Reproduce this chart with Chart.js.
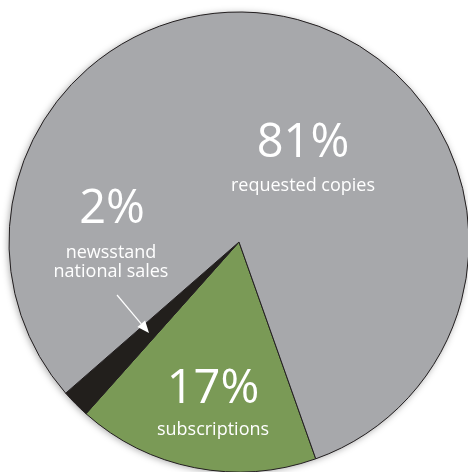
<!DOCTYPE html>
<html>
<head>
<meta charset="utf-8">
<script src="https://cdn.jsdelivr.net/npm/chart.js@4/dist/chart.umd.min.js"></script>
<style>
  html, body { margin: 0; padding: 0; background: #ffffff; overflow: hidden; width: 468px; height: 472px; }
  #wrap { position: absolute; left: 0; top: 0; width: 478px; height: 484px; }
</style>
</head>
<body>
<div id="wrap"><canvas id="c" width="478" height="484"></canvas></div>
<script>
// ---- data ----
const categories = ["subscriptions", "newsstand national sales", "requested copies"];
const shares = [17, 2, 81];
const percentLabels = ["17%", "2%", "81%"];

// ---- styles / layout (kept separate from data) ----
const sliceColors = ["#7a9a56", "#221f1c", "#a7a8ab"];
const edgeColor = "#231f20";
const labelFont = "'Open Sans', 'Noto Sans', sans-serif";
// label anchor points (px) for each category: big % text and caption lines
const labelLayout = [
  { pctX: 213, pctY: 403, capX: 213, capY: [435] },
  { pctX: 112, pctY: 223, capX: 111, capY: [258, 277] },
  { pctX: 303, pctY: 157, capX: 303, capY: [191] }
];
const captionLines = [["subscriptions"], ["newsstand", "national sales"], ["requested copies"]];

const shadowPlugin = {
  id: 'shadow',
  beforeDatasetsDraw(chart) {
    const arc = chart.getDatasetMeta(0).data[0];
    if (!arc) return;
    const ctx = chart.ctx;
    ctx.save();
    ctx.shadowColor = 'rgba(0,0,0,0.35)';
    ctx.shadowBlur = 7;
    ctx.shadowOffsetX = -1;
    ctx.shadowOffsetY = 1;
    ctx.beginPath();
    ctx.arc(arc.x, arc.y, arc.outerRadius, 0, Math.PI * 2);
    ctx.fillStyle = sliceColors[2];
    ctx.fill();
    ctx.restore();
  }
};

const labelPlugin = {
  id: 'labels',
  afterDatasetsDraw(chart) {
    const ctx = chart.ctx;
    ctx.save();
    ctx.fillStyle = '#ffffff';
    ctx.textAlign = 'center';
    ctx.textBaseline = 'alphabetic';
    labelLayout.forEach((L, i) => {
      ctx.font = "400 47px " + labelFont;
      ctx.fillText(percentLabels[i], L.pctX, L.pctY);
      ctx.font = "400 18px " + labelFont;
      captionLines[i].forEach((line, j) => {
        ctx.fillText(line, L.capX, L.capY[j]);
      });
    });
    // arrow pointing at the newsstand slice
    const x1 = 117, y1 = 295, x2 = 149, y2 = 333;
    const ang = Math.atan2(y2 - y1, x2 - x1);
    const headLen = 12, headW = 5;
    ctx.strokeStyle = '#ffffff';
    ctx.lineWidth = 1.2;
    ctx.beginPath();
    ctx.moveTo(x1, y1);
    ctx.lineTo(x2 - headLen * Math.cos(ang), y2 - headLen * Math.sin(ang));
    ctx.stroke();
    ctx.beginPath();
    ctx.moveTo(x2, y2);
    const bx = x2 - headLen * Math.cos(ang), by = y2 - headLen * Math.sin(ang);
    ctx.lineTo(bx + headW * Math.sin(ang), by - headW * Math.cos(ang));
    ctx.lineTo(bx - headW * Math.sin(ang), by + headW * Math.cos(ang));
    ctx.closePath();
    ctx.fill();
    ctx.restore();
  }
};

new Chart(document.getElementById('c'), {
  type: 'pie',
  data: {
    labels: categories,
    datasets: [{
      data: shares,
      backgroundColor: sliceColors,
      borderColor: edgeColor,
      borderWidth: 1
    }]
  },
  options: {
    responsive: false,
    animation: false,
    devicePixelRatio: 1,
    rotation: 160.5,
    radius: 230,
    layout: { padding: 0 },
    plugins: {
      legend: { display: false },
      tooltip: { enabled: false }
    }
  },
  plugins: [shadowPlugin, labelPlugin]
});
</script>
</body>
</html>
